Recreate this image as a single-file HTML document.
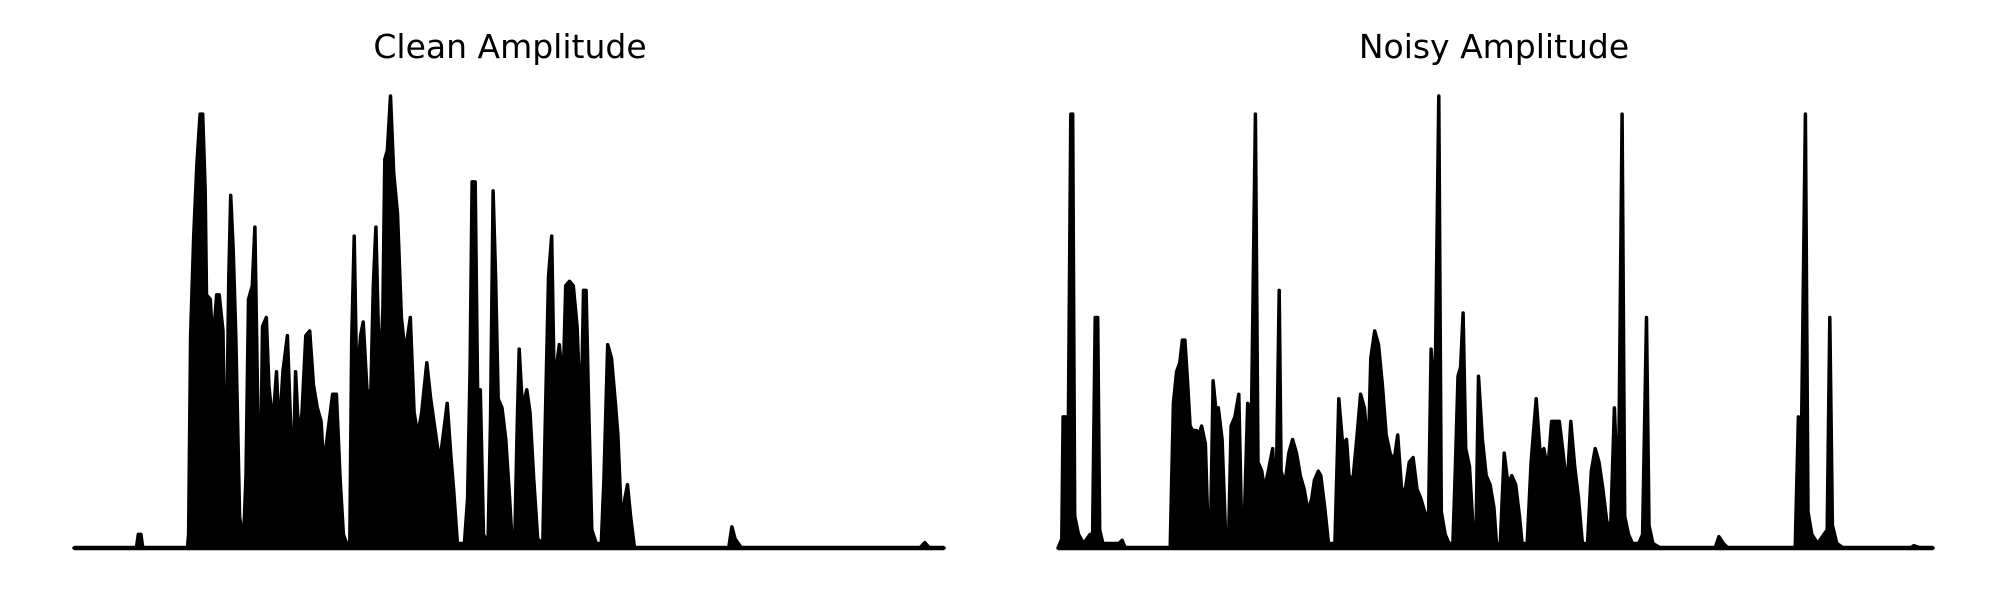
<!DOCTYPE html>
<html><head><meta charset="utf-8">
<style>
html,body{margin:0;padding:0;background:#fff;}
svg{display:block;}
text{font-family:"DejaVu Sans","Liberation Sans",sans-serif;}
</style></head>
<body>
<svg id="chart" width="2000" height="600" viewBox="0 0 2000 600" xmlns="http://www.w3.org/2000/svg">
<rect width="2000" height="600" fill="#fff"/>
<text x="510" y="58" font-size="33" text-anchor="middle" fill="#000">Clean Amplitude</text>
<text x="1494" y="58" font-size="33" text-anchor="middle" fill="#000">Noisy Amplitude</text>
<g id="clean"></g>
<g id="noisy"></g>
</svg>
<script>
// Envelope samples: time positions and amplitudes (normalized)
const cleanTime = [112,210,213,217,220,290,292,295,300,305,310,314,318,320,326,330,336,340,346,350,355,358,362,366,372,378,382,386,392,396,400,404,408,414,418,424,430,434,440,447,452,455,460,465,470,476,482,488,494,500,504,510,518,524,530,535,540,545,548,552,556,562,566,572,578,582,586,592,597,600,604,609,614,620,626,632,640,646,652,658,666,672,680,686,690,698,704,708,714,725,730,734,737,742,746,750,755,762,766,770,774,778,784,790,796,800,804,808,811,816,823,828,834,840,848,852,857,862,866,874,880,884,890,896,902,908,912,916,920,925,932,940,944,950,956,962,966,972,977,981,986,992,1140,1145,1150,1160,1440,1448,1455,1478];
const cleanAmp = [0,0,0.03,0.03,0,0,0.03,0.47,0.69,0.85,0.96,0.96,0.79,0.56,0.55,0.45,0.56,0.56,0.48,0.08,0.6,0.78,0.66,0.47,0.07,0.01,0.16,0.55,0.58,0.71,0.36,0.04,0.49,0.51,0.36,0.27,0.39,0.25,0.39,0.47,0.28,0.11,0.39,0.24,0.3,0.47,0.48,0.36,0.31,0.28,0.18,0.25,0.34,0.34,0.15,0.03,0.01,0.01,0.46,0.69,0.36,0.47,0.5,0.35,0.34,0.58,0.71,0.36,0.53,0.86,0.88,1.0,0.83,0.74,0.51,0.43,0.51,0.3,0.25,0.3,0.41,0.33,0.25,0.19,0.23,0.32,0.2,0.13,0.01,0.01,0.11,0.4,0.81,0.81,0.31,0.35,0.03,0.01,0.28,0.79,0.6,0.33,0.31,0.24,0.11,0.01,0.01,0.28,0.44,0.31,0.35,0.3,0.15,0.02,0.01,0.28,0.6,0.69,0.36,0.45,0.36,0.58,0.59,0.58,0.49,0.27,0.57,0.57,0.32,0.04,0.01,0.01,0.15,0.45,0.42,0.32,0.25,0.05,0.11,0.14,0.07,0,0,0.047,0.02,0,0,0.012,0,0];
const noisyTime = [90,96,98,102,106,110,113,116,122,130,140,144,148,152,155,160,185,190,195,265,270,275,280,284,288,292,296,300,306,310,314,320,324,328,332,336,340,346,352,356,360,366,372,376,380,386,392,398,402,408,412,418,425,430,435,438,444,450,456,462,468,474,480,486,490,496,500,506,512,522,526,528,534,540,544,550,556,562,568,574,578,584,590,596,602,608,614,620,626,632,638,644,650,656,662,668,672,678,684,688,694,700,706,710,714,718,722,726,732,738,742,746,752,758,764,770,774,780,786,792,798,804,810,814,822,828,836,842,848,854,860,866,872,878,884,890,896,902,908,916,922,928,934,940,946,952,958,964,970,974,980,986,996,1002,1008,1012,1018,1030,1115,1121,1128,1135,1240,1245,1250,1256,1260,1266,1275,1285,1290,1294,1298,1305,1315,1420,1425,1435,1455];
const noisyAmp = [0,0.02,0.29,0.29,0.26,0.96,0.96,0.07,0.03,0.01,0.03,0.03,0.51,0.51,0.04,0.01,0.01,0.017,0,0,0.32,0.39,0.41,0.46,0.46,0.37,0.27,0.26,0.26,0.25,0.27,0.23,0.04,0.04,0.37,0.31,0.31,0.24,0.01,0.01,0.27,0.29,0.34,0.08,0.03,0.32,0.31,0.96,0.19,0.17,0.13,0.17,0.22,0.07,0.57,0.17,0.14,0.21,0.24,0.21,0.16,0.13,0.08,0.11,0.15,0.17,0.16,0.09,0.01,0.01,0.22,0.33,0.23,0.24,0.16,0.15,0.24,0.34,0.31,0.21,0.42,0.48,0.45,0.36,0.25,0.21,0.19,0.25,0.13,0.13,0.19,0.2,0.13,0.11,0.08,0.06,0.44,0.32,1.0,0.08,0.03,0.01,0.01,0.18,0.38,0.4,0.52,0.22,0.18,0.03,0.01,0.38,0.24,0.16,0.14,0.09,0.01,0.01,0.21,0.14,0.16,0.14,0.07,0.01,0.01,0.19,0.33,0.21,0.22,0.17,0.28,0.28,0.28,0.21,0.13,0.28,0.18,0.11,0.01,0.01,0.17,0.22,0.19,0.13,0.06,0.04,0.31,0.08,0.96,0.07,0.03,0.01,0.01,0.03,0.51,0.05,0.01,0,0,0.025,0.01,0,0,0.29,0.27,0.96,0.08,0.03,0.01,0.03,0.04,0.51,0.05,0.01,0,0,0.005,0,0];

const NS='http://www.w3.org/2000/svg';
function makeScale(d0,d1,r0,r1){return v=>r0+(v-d0)/(d1-d0)*(r1-r0);}
function drawPanel(gid,times,amps,px0,px1){
  const g=document.getElementById(gid);
  const x=makeScale(times[0],times[times.length-1],px0,px1);
  const y=makeScale(0,1,548,96);
  let d='M'+x(times[0]).toFixed(1)+','+y(0).toFixed(1);
  for(let i=0;i<times.length;i++){d+=' L'+x(times[i]).toFixed(1)+','+y(amps[i]).toFixed(1);}
  d+=' L'+x(times[times.length-1]).toFixed(1)+','+y(0).toFixed(1)+' Z';
  const p=document.createElementNS(NS,'path');
  p.setAttribute('d',d);
  p.setAttribute('fill','#000');
  p.setAttribute('stroke','#000');
  p.setAttribute('stroke-width','3.5');
  p.setAttribute('stroke-linejoin','round');
  
  
  g.appendChild(p);
  const b=document.createElementNS(NS,'line');
  b.setAttribute('x1',x(times[0]));
  b.setAttribute('x2',x(times[times.length-1]));
  b.setAttribute('y1',y(0));
  b.setAttribute('y2',y(0));
  b.setAttribute('stroke','#000');
  b.setAttribute('stroke-width','4.5');
  
  
  g.appendChild(b);
}
drawPanel('clean',cleanTime,cleanAmp,74,944);
drawPanel('noisy',noisyTime,noisyAmp,1058,1933);
</script>
</body></html>
